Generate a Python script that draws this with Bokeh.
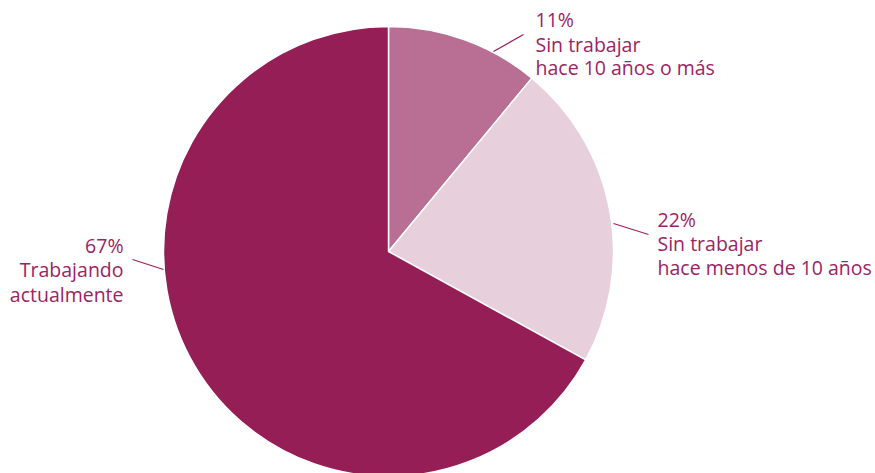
import numpy as np
from bokeh.plotting import figure
from bokeh.models import Range1d, ColumnDataSource
from bokeh.core.properties import value
from bokeh.embed import file_html
from bokeh.resources import INLINE

# ---- data ----
categories = ["Sin trabajar hace 10 años o más",
              "Sin trabajar hace menos de 10 años",
              "Trabajando actualmente"]
shares = [11, 22, 67]
pct_labels = ["11%", "22%", "67%"]
label_lines = [["Sin trabajar", "hace 10 años o más"],
               ["Sin trabajar", "hace menos de 10 años"],
               ["Trabajando", "actualmente"]]

# ---- style / layout ----
colors = ["#B96E93", "#E8CFDC", "#951E57"]
text_color = "#9B2463"
W, H = 875, 473
cx, cy, R = 388, H - 251, 225

p = figure(width=W, height=H, output_backend="svg", toolbar_location=None,
           x_range=Range1d(0, W), y_range=Range1d(0, H),
           min_border=0, outline_line_color=None)
p.axis.visible = False
p.grid.visible = False
p.background_fill_color = "white"

total = sum(shares)
cum = np.cumsum([0] + shares) / total
starts = [np.pi / 2 - 2 * np.pi * cum[i + 1] for i in range(len(shares))]
ends = [np.pi / 2 - 2 * np.pi * cum[i] for i in range(len(shares))]

src = ColumnDataSource(dict(x=[cx] * 3, y=[cy] * 3, s=starts, e=ends,
                            c=colors, cat=categories))
p.wedge(x="x", y="y", radius=R, start_angle="s", end_angle="e",
        fill_color="c", line_color="white", line_width=1.5, source=src)

# label layout (page pixel positions)
def fy(py):
    return H - py

leaders = [((493, 51), (523, 34)), ((613, 223), (648, 234)), ((132, 259), (163, 269))]
shift = 7.5
anchors = [(535, "left", [26, 51, 74]),
           (657, "left", [226, 250.5, 274]),
           (123, "right", [252, 276, 301])]

for (a, b) in leaders:
    p.segment(x0=a[0], y0=fy(a[1]), x1=b[0], y1=fy(b[1]),
              line_color=text_color, line_width=1.3)

for i, (ax, align, bases) in enumerate(anchors):
    texts = [pct_labels[i]] + label_lines[i]
    for t, by in zip(texts, bases):
        p.text(x=[ax], y=[fy(by - shift)], text=[t], text_align=align,
               text_baseline="alphabetic", text_font=value("Open Sans"),
               text_font_size="19.5px", text_color=text_color)

open("out.html", "w").write(file_html(p, INLINE))
